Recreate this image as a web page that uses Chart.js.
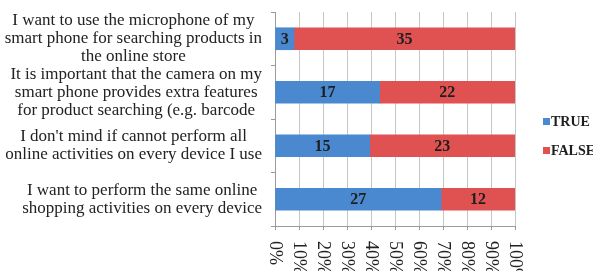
<!DOCTYPE html>
<html>
<head>
<meta charset="utf-8">
<script src="https://cdn.jsdelivr.net/npm/chart.js@4.4.1/dist/chart.umd.min.js"></script>
<style>
  html, body { margin: 0; padding: 0; background: #fff; }
  #wrap { width: 593px; height: 271px; }
</style>
</head>
<body>
<div id="wrap"><canvas id="chart" width="593" height="271"></canvas></div>
<script>
// Datos
const preguntas = [
  ["I want to use the microphone of my", "smart phone for searching products in", "the online store"],
  ["It is important that the camera on my", "smart phone provides extra features", "for product searching (e.g. barcode"],
  ["I don't mind if cannot perform all", "online activities on every device I use"],
  ["I want to perform the same online", "shopping activities on every device"]
];
const respTrue = [3, 17, 15, 27];
const respFalse = [35, 22, 23, 12];
const ticksX = [0, 10, 20, 30, 40, 50, 60, 70, 80, 90, 100];

const serif = '"Liberation Serif", "DejaVu Serif", serif';
const azul = '#4a89cf';
const rojo = '#e05252';

// porcentajes para la barra 100% apilada
const totales = respTrue.map((v, i) => v + respFalse[i]);
const pctTrue = respTrue.map((v, i) => v / totales[i] * 100);
const pctFalse = respFalse.map((v, i) => v / totales[i] * 100);

// Etiquetas del eje Y (lineas centradas, bloque alineado a la derecha)
const etiquetasY = {
  id: 'etiquetasY',
  afterDraw(chart) {
    const { ctx } = chart;
    const y = chart.scales.y;
    ctx.save();
    ctx.font = '17px ' + serif;
    ctx.fillStyle = '#222';
    ctx.textAlign = 'center';
    ctx.textBaseline = 'middle';
    const alto = 18;
    preguntas.forEach((lineas, i) => {
      const cy = y.getPixelForTick(i);
      const anchoMax = Math.max(...lineas.map(l => ctx.measureText(l).width));
      const cx = 262 - anchoMax / 2;
      const y0 = cy - (lineas.length - 1) * alto / 2;
      lineas.forEach((l, j) => ctx.fillText(l, cx, y0 + j * alto));
    });
    ctx.restore();
  }
};

// Etiquetas del eje X giradas hacia abajo
const etiquetasX = {
  id: 'etiquetasX',
  afterDraw(chart) {
    const { ctx } = chart;
    const x = chart.scales.x;
    ctx.save();
    ctx.font = '18px ' + serif;
    ctx.fillStyle = '#222';
    ctx.textAlign = 'left';
    ctx.textBaseline = 'middle';
    ticksX.forEach(v => {
      ctx.save();
      ctx.translate(x.getPixelForValue(v), chart.chartArea.bottom + 15);
      ctx.rotate(Math.PI / 2);
      ctx.fillText(v + '%', 0, 0);
      ctx.restore();
    });
    ctx.restore();
  }
};

// Valores dentro de cada segmento
const valores = {
  id: 'valores',
  afterDatasetsDraw(chart) {
    const { ctx } = chart;
    const series = [respTrue, respFalse];
    ctx.save();
    ctx.font = 'bold 16px ' + serif;
    ctx.fillStyle = '#1e1e1e';
    ctx.textAlign = 'center';
    ctx.textBaseline = 'middle';
    chart.data.datasets.forEach((ds, d) => {
      chart.getDatasetMeta(d).data.forEach((bar, i) => {
        const cx = (bar.x + bar.base) / 2;
        ctx.fillText(series[d][i], cx, bar.y + 1);
      });
    });
    ctx.restore();
  }
};

// Leyenda a la derecha
const leyenda = {
  id: 'leyenda',
  afterDraw(chart) {
    const { ctx } = chart;
    const x0 = chart.chartArea.right + 28;
    ctx.save();
    ctx.font = 'bold 14px ' + serif;
    ctx.textBaseline = 'middle';
    chart.data.datasets.forEach((ds, i) => {
      const yy = 122 + i * 29;
      ctx.fillStyle = ds.backgroundColor;
      ctx.fillRect(x0, yy - 4, 7, 7);
      ctx.fillStyle = '#1e1e1e';
      ctx.fillText(ds.label, x0 + 8, yy);
    });
    ctx.restore();
  }
};

new Chart(document.getElementById('chart').getContext('2d'), {
  type: 'bar',
  data: {
    labels: preguntas.map(p => p.join(' ')),
    datasets: [
      { label: 'TRUE', data: pctTrue, backgroundColor: azul, barThickness: 22 },
      { label: 'FALSE', data: pctFalse, backgroundColor: rojo, barThickness: 22 }
    ]
  },
  options: {
    indexAxis: 'y',
    responsive: false,
    animation: false,
    layout: { padding: { top: 12, right: 78, left: 0, bottom: 0 } },
    plugins: {
      legend: { display: false },
      tooltip: { enabled: false }
    },
    scales: {
      x: {
        stacked: true,
        min: 0,
        max: 100,
        ticks: { stepSize: 10, display: false },
        grid: { color: '#c6c6c6', tickLength: 4, tickColor: '#9a9a9a' },
        border: { display: true, color: '#9a9a9a' },
        afterFit(scale) { scale.height = 45; }
      },
      y: {
        stacked: true,
        ticks: { display: false },
        grid: { offset: true, drawOnChartArea: false, tickLength: 4, color: '#9a9a9a' },
        border: { display: true, color: '#9a9a9a' },
        afterFit(scale) { scale.width = 275; }
      }
    }
  },
  plugins: [etiquetasY, etiquetasX, valores, leyenda]
});
</script>
</body>
</html>
